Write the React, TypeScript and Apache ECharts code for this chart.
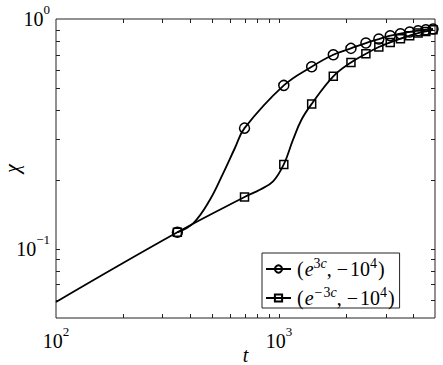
import React, { useEffect, useRef } from 'react';
import * as echarts from 'echarts';

// marker times and values
const markerT = [350, 700, 1050, 1400, 1750, 2100, 2450, 2800, 3150, 3500, 3850, 4200, 4550, 4900];
const chiPlus = [0.118, 0.335, 0.514, 0.62, 0.699, 0.745, 0.786, 0.818, 0.846, 0.863, 0.878, 0.889, 0.898, 0.905];
const chiMinus = [0.118, 0.168, 0.233, 0.427, 0.563, 0.647, 0.706, 0.755, 0.791, 0.821, 0.846, 0.869, 0.883, 0.898];
// curve points read between markers (no marker drawn)
const leadT = [100];
const leadChi = [0.0587];
const plusCurveT = [413, 490, 562, 634];
const plusCurveChi = [0.1295, 0.1636, 0.2137, 0.2746];
const minusCurveT = [820, 940, 1155, 1260];
const minusCurveChi = [0.1808, 0.1965, 0.2985, 0.3644];

const seriesNames = ['(e^{3c}, −10^4)', '(e^{−3c}, −10^4)'];
const legendRich = [
  '{p|(}{i|e}{s|3}{si|c}{c|,}{m|−}{d|10}{s|4}{p|)}',
  '{p|(}{i|e}{sm|−}{s|3}{si|c}{c|,}{m|−}{d|10}{s|4}{p|)}',
];

const xMin = 100;
const xMax = 5000;
const yMin = 0.05;
const yMax = 1;
const xMinorTicks = [200, 300, 400, 500, 600, 700, 800, 900, 1000, 2000, 3000, 4000];
const yMinorTicks = [0.06, 0.07, 0.08, 0.09, 0.1, 0.2, 0.3, 0.4, 0.5, 0.6, 0.7, 0.8, 0.9];

const FONT = 'Liberation Serif';

function buildData(mt: number[], my: number[], ct: number[], cy: number[]) {
  const items: any[] = mt.map((t, i) => ({ value: [t, my[i]] }));
  ct.forEach((t, i) => items.push({ value: [t, cy[i]], symbol: 'none' }));
  items.sort((a, b) => a.value[0] - b.value[0]);
  return items;
}

function powLabel(v: number) {
  const l = Math.log10(v);
  const e = Math.round(l);
  if (Math.abs(l - e) > 1e-6) return '';
  return `{b|10}{s|${e < 0 ? '−' + -e : e}}`;
}

const tickRich = {
  b: { fontFamily: FONT, fontSize: 20, lineHeight: 32, color: '#000' },
  s: { fontFamily: FONT, fontSize: 13, lineHeight: 13, verticalAlign: 'top', color: '#000' },
};

const LF = 20;
const LS = 14;
const LH = 26;

export default function App() {
  const ref = useRef<HTMLDivElement>(null);
  useEffect(() => {
    const chart = echarts.init(ref.current!, null, { renderer: 'svg' });
    const tickData: number[][] = [
      ...xMinorTicks.map((v) => [v, yMin, 0]),
      ...yMinorTicks.map((v) => [xMin, v, 1]),
    ];
    const lineStyle = { color: '#000', width: 1.8 };
    const base = { fontFamily: FONT, color: '#000' };
    const option: any = {
      animation: false,
      backgroundColor: '#fff',
      textStyle: { fontFamily: FONT },
      grid: {
        left: 56,
        top: 19,
        width: 379,
        height: 299,
        show: true,
        borderColor: '#222',
        borderWidth: 1,
        backgroundColor: 'transparent',
        containLabel: false,
        outerBoundsMode: 'none',
      },
      xAxis: {
        type: 'log',
        logBase: 10,
        min: xMin,
        max: xMax,
        name: 't',
        nameLocation: 'middle',
        nameGap: 27,
        nameMoveOverlap: false,
        nameTextStyle: { fontFamily: FONT, fontSize: 20, fontStyle: 'italic', color: '#000' },
        axisLine: { show: false },
        axisTick: { show: false },
        splitLine: { show: false },
        axisLabel: { formatter: powLabel, margin: 7, rich: tickRich, showMinLabel: true, showMaxLabel: true },
      },
      yAxis: {
        type: 'log',
        logBase: 10,
        min: yMin,
        max: yMax,
        name: 'χ',
        nameLocation: 'middle',
        nameGap: 34,
        nameMoveOverlap: false,
        nameTextStyle: { fontFamily: FONT, fontSize: 20, fontStyle: 'italic', color: '#000' },
        axisLine: { show: false },
        axisTick: { show: false },
        splitLine: { show: false },
        axisLabel: { formatter: powLabel, margin: 6, rich: tickRich, showMinLabel: true, showMaxLabel: true },
      },
      legend: {
        data: seriesNames,
        orient: 'vertical',
        left: 262,
        top: 253,
        padding: [3, 4, 0, 3],
        itemGap: 6,
        itemWidth: 25,
        itemHeight: 9,
        borderColor: '#222',
        borderWidth: 1,
        borderRadius: 0,
        backgroundColor: '#fff',
        formatter: (name: string) => legendRich[seriesNames.indexOf(name)],
        textStyle: {
          fontFamily: FONT,
          fontSize: LF,
          rich: {
            p: { ...base, fontSize: LF, lineHeight: LH, padding: [0, 1, 0, 1] },
            c: { ...base, fontSize: LF, lineHeight: LH, padding: [0, 4, 0, 0] },
            d: { ...base, fontSize: LF, lineHeight: LH },
            m: { ...base, fontSize: LF, lineHeight: LH, padding: [0, 2, 0, 1] },
            i: { ...base, fontSize: LF, lineHeight: LH, fontStyle: 'italic' },
            s: { ...base, fontSize: LS, lineHeight: LS, verticalAlign: 'top' },
            sm: { ...base, fontSize: LS, lineHeight: LS, verticalAlign: 'top', padding: [0, 1, 0, 1] },
            si: { ...base, fontSize: LS, lineHeight: LS, verticalAlign: 'top', fontStyle: 'italic' },
          },
        },
      },
      series: [
        {
          type: 'custom',
          silent: true,
          clip: false,
          z: 1,
          data: tickData,
          encode: { x: 0, y: 1 },
          renderItem: (params: any, api: any) => {
            const kind = api.value(2);
            const pt = api.coord([api.value(0), api.value(1)]);
            const cs = params.coordSys;
            const L = 4;
            const style = { stroke: '#222', lineWidth: 1 };
            if (kind === 0) {
              const x = Math.round(pt[0]) + 0.5;
              return {
                type: 'group',
                children: [
                  { type: 'line', shape: { x1: x, y1: cs.y + cs.height, x2: x, y2: cs.y + cs.height - L }, style },
                  { type: 'line', shape: { x1: x, y1: cs.y, x2: x, y2: cs.y + L }, style },
                ],
              };
            }
            const y = Math.round(pt[1]) + 0.5;
            return {
              type: 'group',
              children: [
                { type: 'line', shape: { x1: cs.x, y1: y, x2: cs.x + L, y2: y }, style },
                { type: 'line', shape: { x1: cs.x + cs.width, y1: y, x2: cs.x + cs.width - L, y2: y }, style },
              ],
            };
          },
        },
        {
          name: seriesNames[0],
          type: 'line',
          smooth: 0.4,
          symbol: 'circle',
          symbolSize: 10,
          lineStyle,
          itemStyle: { color: 'transparent', borderColor: '#000', borderWidth: 1.5 },
          data: buildData(markerT, chiPlus, plusCurveT, plusCurveChi),
          z: 3,
        },
        {
          name: seriesNames[1],
          type: 'line',
          smooth: 0.4,
          symbol: 'rect',
          symbolSize: 8,
          lineStyle,
          itemStyle: { color: 'transparent', borderColor: '#000', borderWidth: 1.5 },
          data: buildData(markerT, chiMinus, [...leadT, ...minusCurveT], [...leadChi, ...minusCurveChi]),
          z: 3,
        },
      ],
    };
    chart.setOption(option);
    return () => chart.dispose();
  }, []);
  return <div ref={ref} style={{ position: 'fixed', left: 0, top: 0, width: 443, height: 365 }} />;
}
